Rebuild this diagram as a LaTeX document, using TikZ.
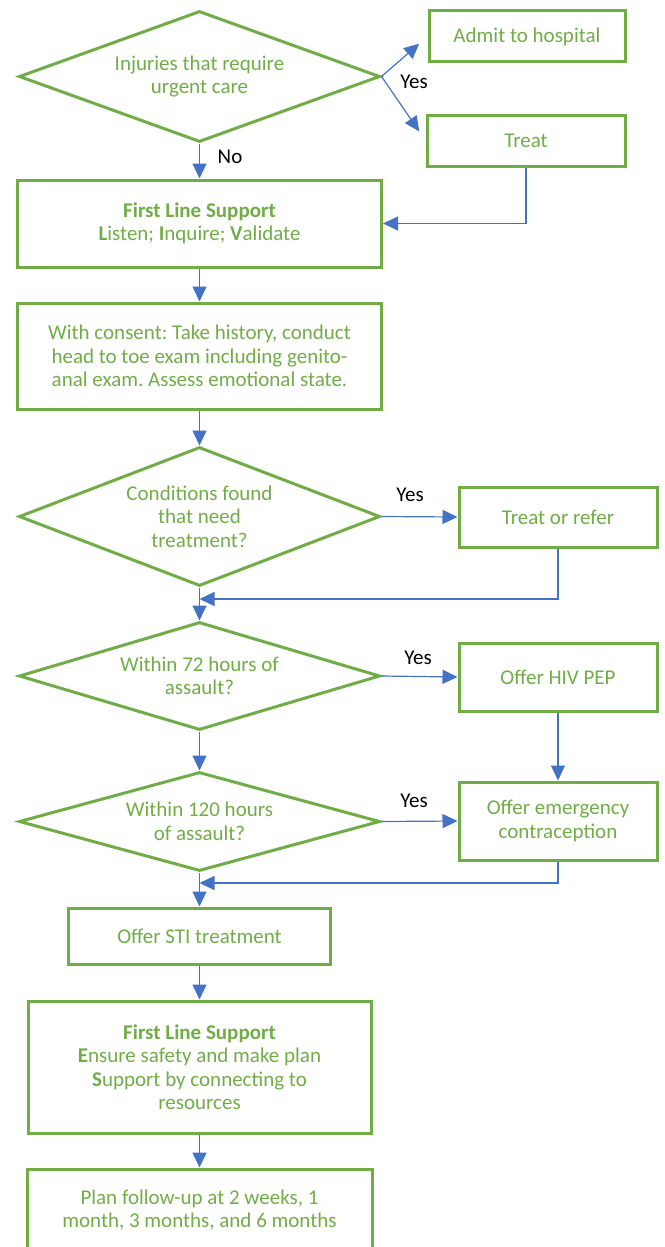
\documentclass[tikz,border=0pt]{standalone}
\usepackage{fontspec}
\setmainfont{Carlito}
\usepackage{xcolor}
\usepackage{tikz}
\usetikzlibrary{shapes.geometric,arrows.meta}
\definecolor{leafgreen}{HTML}{70AD47}
\definecolor{flowblue}{HTML}{4472C4}
\frenchspacing

\begin{document}
\begin{tikzpicture}[x=1pt,y=-1pt,
    every node/.style={font=\fontsize{21pt}{23.5pt}\selectfont, align=center},
    process/.style={draw=leafgreen, text=leafgreen, line width=3pt, rectangle, inner sep=0pt},
    decision/.style={draw=leafgreen, text=leafgreen, line width=3pt, diamond, inner sep=0pt, minimum width=361pt},
    answer/.style={text=black},
    flow/.style={draw=flowblue, line width=1.2pt, -{Triangle[length=15pt,width=14pt]}}]
    \useasboundingbox (0,0) rectangle (664,1247);
    \clip (0,0) rectangle (664,1247);

    % Left column
    \node[decision, aspect=2.73, minimum height=131pt] (inj) at (199.5,76.5) {Injuries that require\\urgent care};
    \node[process, minimum width=364pt, minimum height=87pt] (fls1) at (199.5,223.5)
        {\textbf{First Line Support}\\\textbf{L}isten; \textbf{I}nquire; \textbf{V}alidate};
    \node[process, minimum width=364pt, minimum height=106pt] (exam) at (199.5,356)
        {With consent: Take history, conduct\\head to toe exam including genito-\\anal exam. Assess emotional state.};
    \node[decision, aspect=2.6, minimum height=139pt] (cond) at (199.5,516.5) {Conditions found\\that need\\treatment?};
    \node[decision, aspect=3.35, minimum height=108pt] (hrs72) at (199.5,676) {Within 72 hours of\\assault?};
    \node[decision, aspect=3.66, minimum height=99pt] (hrs120) at (199.5,821.5) {Within 120 hours\\of assault?};
    \node[process, minimum width=262pt, minimum height=56pt] (sti) at (199.5,936) {Offer STI treatment};
    \node[process, minimum width=343pt, minimum height=132pt] (fls2) at (199.5,1067)
        {\textbf{First Line Support}\\\textbf{E}nsure safety and make plan\\\textbf{S}upport by connecting to\\resources};
    \node[process, minimum width=345pt, minimum height=82pt] (plan) at (199.5,1210)
        {Plan follow-up at 2 weeks, 1\\month, 3 months, and 6 months};

    % Right column
    \node[process, minimum width=196pt, minimum height=51pt] (admit) at (527,36.5) {Admit to hospital};
    \node[process, minimum width=198pt, minimum height=51pt] (treat) at (526,140.5) {Treat};
    \node[process, minimum width=198pt, minimum height=60pt] (refer) at (558,517) {Treat or refer};
    \node[process, minimum width=198pt, minimum height=68pt] (pep) at (558,677) {Offer HIV PEP};
    \node[process, minimum width=198pt, minimum height=78pt] (ec) at (558,821) {Offer emergency\\contraception};

    % Answers
    \node[answer] (yes1) at (414,82) {Yes};
    \node[answer] (no1) at (230,157) {No};
    \node[answer] (yes2) at (410,495) {Yes};
    \node[answer] (yes3) at (418,658) {Yes};
    \node[answer] (yes4) at (414,801) {Yes};

    % Joins on the main line
    \coordinate (join1) at (199.5,599);
    \coordinate (join2) at (199.5,883);

    % Connectors
    \draw[flow, shorten >=11pt] (inj.east) -- (admit.west);
    \draw[flow, shorten >=11pt] (inj.east) -- (treat.west);
    \draw[flow] (inj.south) -- (fls1.north);
    \draw[flow] (treat.south) |- (fls1.east);
    \draw[flow] (fls1.south) -- (exam.north);
    \draw[flow] (exam.south) -- (cond.north);
    \draw[flow] (cond.east) -- (refer.west);
    \draw[flow] (refer.south) |- (join1);
    \draw[flow] (cond.south) -- (hrs72.north);
    \draw[flow] (hrs72.east) -- (pep.west);
    \draw[flow] (pep.south) -- (ec.north);
    \draw[flow] (hrs72.south) -- (hrs120.north);
    \draw[flow] (hrs120.east) -- (ec.west);
    \draw[flow] (ec.south) |- (join2);
    \draw[flow] (hrs120.south) -- (sti.north);
    \draw[flow] (sti.south) -- (fls2.north);
    \draw[flow] (fls2.south) -- (plan.north);

\end{tikzpicture}
\end{document}
